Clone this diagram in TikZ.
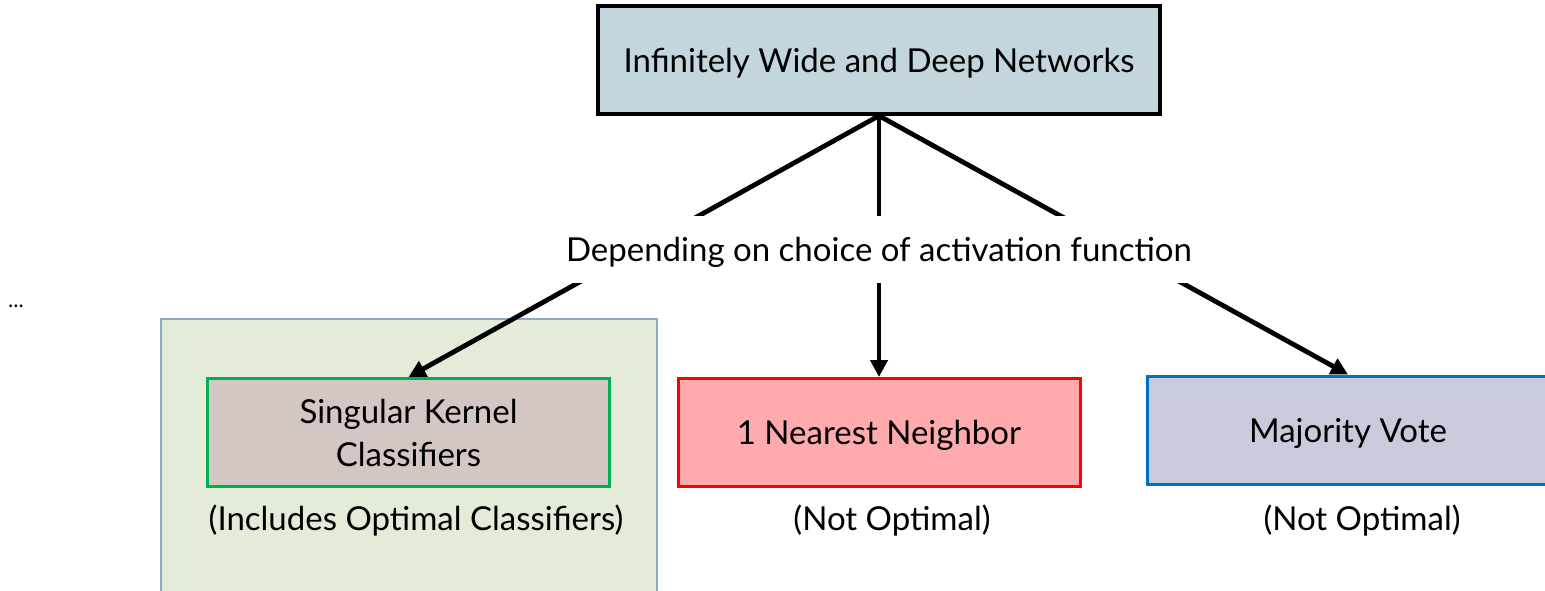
\documentclass[tikz,border=0pt]{standalone}
\usepackage{fontspec}
\setmainfont{Lato}
\usetikzlibrary{arrows.meta}
\definecolor{topfill}{HTML}{C3D6DD}
\definecolor{panelfill}{HTML}{E2ECD9}
\definecolor{panelline}{HTML}{8EA9C8}
\definecolor{skfill}{HTML}{D3C7C3}
\definecolor{skline}{HTML}{00B050}
\definecolor{nnfill}{HTML}{FFAAAD}
\definecolor{nnline}{HTML}{FF0000}
\definecolor{mvfill}{HTML}{C8CBDB}
\definecolor{mvline}{HTML}{0070C0}
\tikzset{
  box/.style={rectangle, minimum width=402pt, minimum height=108pt, inner sep=0pt,
    align=center, text depth=0pt, font=\fontsize{33}{43}\selectfont},
  note/.style={inner sep=0pt, font=\fontsize{33}{38}\selectfont},
  link/.style={line width=4.8pt, -{Triangle[length=17pt,width=17pt]}},
}
\begin{document}
\begin{tikzpicture}[x=1pt, y=-1pt]
\useasboundingbox (0,0) rectangle (1545,591);
% shaded panel behind the kernel classifier
\draw[panelline, fill=panelfill, line width=1.5pt] (161,319) rectangle (657,600);
% root
\node[box, draw=black, fill=topfill, line width=3.5pt, minimum width=562pt]
  (root) at (879,60) {Infinitely Wide and Deep Networks};
% outcomes
\node[box, draw=skline, fill=skfill, line width=3pt] (sk) at (408.5,432.5)
  {Singular Kernel\\Classifiers};
\node[box, draw=nnline, fill=nnfill, line width=3pt] (nn) at (879,432.5)
  {1 Nearest Neighbor};
\node[box, draw=mvline, fill=mvfill, line width=3pt] (mv) at (1348,430)
  {Majority Vote};
% connectors
\draw[link] (root.south) -- (sk.north);
\draw[link] (root.south) -- (nn.north);
\draw[link] (root.south) -- (mv.north);
% label over the connectors
\node[fill=white, minimum width=640pt, minimum height=67pt, inner sep=0pt,
  text depth=0pt, font=\fontsize{33}{38}\selectfont] (dep) at (879,249.5)
  {Depending on choice of activation function};
% remarks
\node[note] (skn) at (416,521) {(Includes Optimal Classifiers)};
\node[note] (nnn) at (892,521) {(Not Optimal)};
\node[note] (mvn) at (1362,521) {(Not Optimal)};
\node[inner sep=0pt, font=\fontsize{22}{24}\selectfont] (dots) at (16,306) {...};
\end{tikzpicture}
\end{document}
